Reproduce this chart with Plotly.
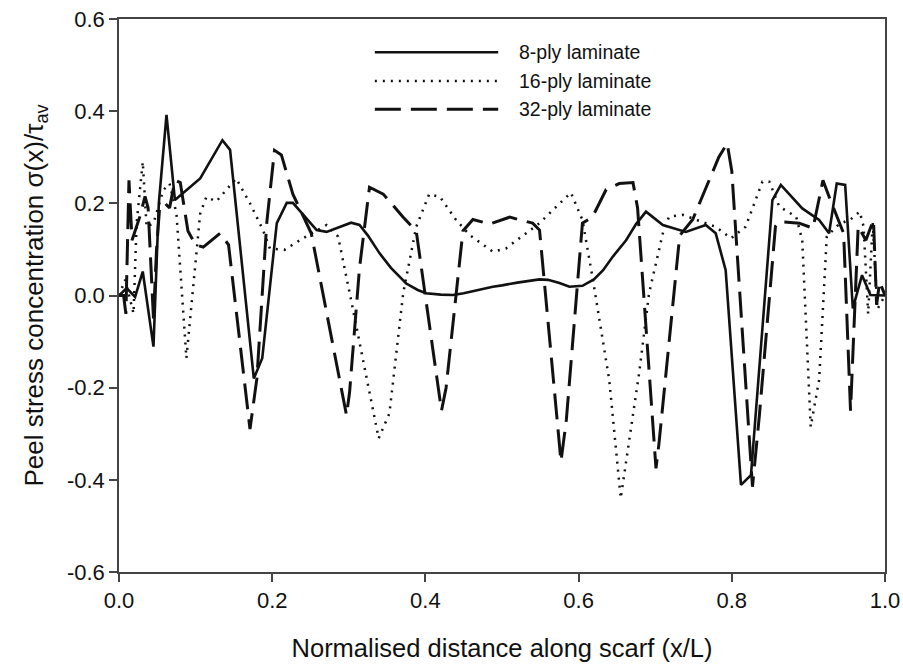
import plotly.graph_objects as go

# ---------------- data ----------------
x8 = [0, 0.01, 0.021, 0.031, 0.045, 0.052, 0.062, 0.073, 0.106, 0.135, 0.145, 0.176, 0.187,
      0.206, 0.219, 0.227, 0.258, 0.271, 0.303, 0.314, 0.325, 0.34, 0.355, 0.375, 0.39, 0.401,
      0.42, 0.436, 0.45, 0.471, 0.488, 0.5, 0.52, 0.549, 0.56, 0.575, 0.588, 0.605, 0.62, 0.632,
      0.645, 0.662, 0.675, 0.688, 0.71, 0.74, 0.766, 0.779, 0.792, 0.812, 0.825, 0.853, 0.864,
      0.892, 0.914, 0.927, 0.937, 0.948, 0.958, 0.97, 0.981, 1.0]
y8 = [0, 0.016, -0.003, 0.052, -0.111, 0.2, 0.392, 0.207, 0.254, 0.337, 0.316, -0.18, -0.136,
      0.157, 0.201, 0.201, 0.142, 0.138, 0.158, 0.153, 0.13, 0.092, 0.06, 0.026, 0.012, 0.005,
      0.002, 0.001, 0.005, 0.013, 0.019, 0.022, 0.028, 0.035, 0.034, 0.027, 0.019, 0.021, 0.035, 0.055,
      0.085, 0.12, 0.155, 0.182, 0.153, 0.138, 0.153, 0.135, 0.055, -0.411, -0.39, 0.207, 0.24,
      0.189, 0.164, 0.135, 0.243, 0.24, -0.028, 0.044, 0.001, 0.0]

x16 = [0, 0.008, 0.019, 0.023, 0.031, 0.036, 0.045, 0.058, 0.066, 0.075, 0.088, 0.097, 0.106,
       0.114, 0.127, 0.153, 0.171, 0.188, 0.197, 0.216, 0.24, 0.271, 0.286, 0.303, 0.319, 0.339,
       0.353, 0.371, 0.388, 0.405, 0.419, 0.44, 0.458, 0.488, 0.505, 0.549, 0.571, 0.59, 0.605,
       0.618, 0.64, 0.655, 0.67, 0.679, 0.692, 0.71, 0.718, 0.736, 0.779, 0.799, 0.818, 0.831,
       0.84, 0.849, 0.862, 0.884, 0.892, 0.903, 0.914, 0.924, 0.94, 0.955, 0.967, 0.972, 0.978,
       0.984, 0.99, 1.0]
y16 = [0, 0.034, -0.039, 0.157, 0.29, 0.149, 0.157, 0.229, 0.243, 0.178, -0.136, 0.019, 0.178,
       0.214, 0.204, 0.254, 0.2, 0.142, 0.102, 0.099, 0.124, 0.153, 0.128, -0.01, -0.147, -0.31,
       -0.256, 0.005, 0.149, 0.22, 0.214, 0.164, 0.131, 0.095, 0.102, 0.157, 0.193, 0.223, 0.164,
       0.041, -0.183, -0.44, -0.27, -0.169, 0.005, 0.135, 0.171, 0.175, 0.149, 0.124, 0.149, 0.207,
       0.247, 0.247, 0.193, 0.171, 0.12, -0.285, -0.183, 0.128, 0.155, 0.165, 0.182, 0.15, -0.04,
       0.16, -0.03, 0.0]

x32 = [0, 0.006, 0.009, 0.013, 0.017, 0.027, 0.034, 0.038, 0.045, 0.049, 0.053, 0.06, 0.066,
       0.073, 0.08, 0.09, 0.1, 0.11, 0.132, 0.143, 0.171, 0.18, 0.193, 0.203, 0.212, 0.227, 0.251,
       0.297, 0.301, 0.314, 0.327, 0.345, 0.371, 0.388, 0.421, 0.427, 0.449, 0.462, 0.484, 0.51,
       0.54, 0.549, 0.577, 0.584, 0.605, 0.618, 0.636, 0.653, 0.671, 0.677, 0.701, 0.705, 0.732,
       0.749, 0.783, 0.794, 0.8, 0.827, 0.836, 0.857, 0.862, 0.888, 0.906, 0.919, 0.928, 0.946,
       0.955, 0.961, 0.965, 0.975, 0.985, 0.989, 0.993, 1.0]
y32 = [0, 0.0, -0.04, 0.25, 0.12, 0.17, 0.215, 0.19, -0.05, 0.1, 0.19, 0.2, 0.19,
       0.25, 0.245, 0.14, 0.11, 0.105, 0.135, 0.11, -0.29, -0.18, 0.16, 0.315, 0.305, 0.22, 0.135,
       -0.26, -0.21, 0.06, 0.235, 0.22, 0.17, 0.14, -0.25, -0.2, 0.14, 0.165, 0.155, 0.17,
       0.157, 0.142, -0.36, -0.27, 0.157, 0.17, 0.23, 0.243, 0.245, 0.19, -0.375, -0.32, 0.13,
       0.165, 0.3, 0.33, 0.27, -0.415, -0.26, 0.15, 0.16, 0.157, 0.146, 0.25, 0.21, 0.135,
       -0.25, 0.0, 0.15, 0.12, 0.164, -0.02, 0.03, 0.0]

series_names = ["8-ply laminate", "16-ply laminate", "32-ply laminate"]

x_tickvals = [0.0, 0.2, 0.4, 0.6, 0.8, 1.0]
x_ticktext = ["0.0", "0.2", "0.4", "0.6", "0.8", "1.0"]
y_tickvals = [-0.6, -0.4, -0.2, 0.0, 0.2, 0.4, 0.6]
y_ticktext = ["-0.6", "-0.4", "-0.2", "0.0", "0.2", "0.4", "0.6"]

# ---------------- styling ----------------
FONT = "Liberation Sans, Arial, sans-serif"
INK = "#111111"
AXIS = "#444444"
styles = [
    dict(color=INK, width=2.6, dash="solid"),
    dict(color=INK, width=2.5, dash="2px,6px"),
    dict(color=INK, width=3.0, dash="26px,10px"),
]

fig = go.Figure()
for xs, ys, name, st in zip([x8, x16, x32], [y8, y16, y32], series_names, styles):
    fig.add_trace(go.Scatter(x=xs, y=ys, mode="lines", name=name, line=st,
                             showlegend=False))

# legend drawn manually (long line samples as in the reference)
leg_y = [0.940, 0.888, 0.837]
for name, st, ly in zip(series_names, styles, leg_y):
    fig.add_shape(type="line", xref="paper", yref="paper", x0=0.334, x1=0.495, y0=ly, y1=ly,
                  line=dict(color=st["color"], width=st["width"], dash=st["dash"]))
    fig.add_annotation(xref="paper", yref="paper", x=0.519, y=ly, text=name, showarrow=False,
                       xanchor="left", yanchor="middle",
                       font=dict(family=FONT, size=19.5, color=INK))

fig.update_layout(
    width=903, height=665,
    margin=dict(l=119, r=18, t=19, b=93, autoexpand=False),
    paper_bgcolor="white", plot_bgcolor="white",
    font=dict(family=FONT, color=INK),
    showlegend=False,
)
fig.update_xaxes(
    range=[0, 1], tickvals=x_tickvals, ticktext=x_ticktext, automargin=False,
    ticklabeloverflow="allow",
    showgrid=False, zeroline=False, showline=True, linecolor=AXIS, linewidth=1.5, mirror=True,
    ticks="outside", ticklen=8, tickwidth=1.5, tickcolor=AXIS,
    tickfont=dict(family=FONT, size=22, color=INK),
    title=dict(text="Normalised distance along scarf (x/L)", standoff=27,
               font=dict(family=FONT, size=25.5, color=INK)),
)
fig.update_yaxes(
    range=[-0.6, 0.6], tickvals=y_tickvals, ticktext=y_ticktext, automargin=False,
    ticklabeloverflow="allow",
    showgrid=False, zeroline=False, showline=True, linecolor=AXIS, linewidth=1.5, mirror=True,
    ticks="outside", ticklen=8, tickwidth=1.5, tickcolor=AXIS,
    tickfont=dict(family=FONT, size=22, color=INK),
    title=dict(text="Peel stress concentration σ(x)/τ<sub>av</sub>", standoff=16,
               font=dict(family=FONT, size=26, color=INK)),
)

# remove the page's default body margin so the figure fills the 903x665 window exactly
fig.write_html("out.html",
               config={"displayModeBar": False},
               post_script="document.body.style.margin='0';document.body.style.overflow='hidden';")
